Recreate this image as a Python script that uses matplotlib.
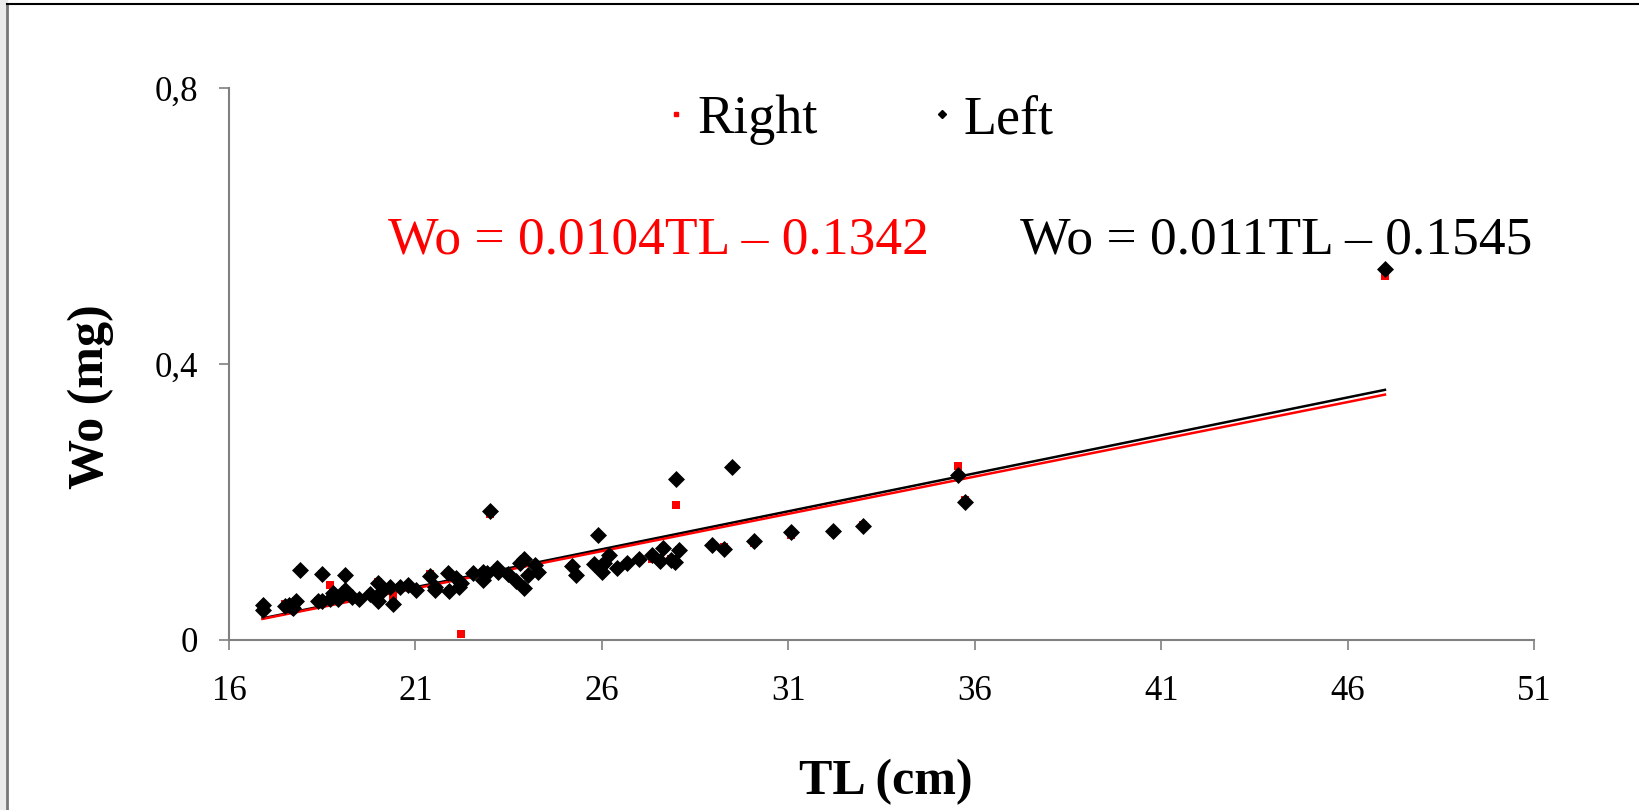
# Wo x TL, otolitos direito e esquerdo
import matplotlib.pyplot as plt
from matplotlib.lines import Line2D
from matplotlib.patches import Rectangle
import numpy as np

plt.rcParams["font.family"] = ["Liberation Serif", "DejaVu Serif"]

tl = [16.9, 16.9, 17.5, 17.6, 17.7, 17.72, 17.8, 17.9, 18.38, 18.5,
      18.5, 18.71, 18.8, 18.84, 18.93, 19.1, 19.1, 19.29, 19.49, 19.78,
      20.0, 20.0, 20.09, 20.32, 20.39, 20.59, 20.81, 21.02, 21.39, 21.52,
      21.52, 21.88, 21.9, 22.09, 22.18, 22.22, 22.55, 22.8, 22.8, 22.91,
      23.0, 23.18, 23.22, 23.49, 23.71, 23.9, 23.8, 23.9, 24.03, 24.2,
      24.3, 25.21, 25.3, 25.79, 25.9, 25.97, 26.06, 26.0, 26.2, 26.4,
      26.68, 26.99, 27.34, 27.65, 27.56, 27.86, 27.95, 28.06, 28.0, 28.96,
      29.28, 29.5, 30.07, 31.07, 32.2, 33.0, 35.56, 35.74, 47.0]

wo_left = [0.050, 0.043, 0.049, 0.051, 0.048, 0.046, 0.057, 0.102, 0.057, 0.057,
           0.095, 0.059, 0.068, 0.064, 0.059, 0.094, 0.072, 0.062, 0.059, 0.067,
           0.082, 0.057, 0.069, 0.077, 0.052, 0.077, 0.080, 0.073, 0.093, 0.077,
           0.072, 0.097, 0.071, 0.090, 0.077, 0.082, 0.097, 0.099, 0.087, 0.097,
           0.187, 0.105, 0.098, 0.096, 0.086, 0.075, 0.111, 0.117, 0.094, 0.109,
           0.098, 0.107, 0.094, 0.110, 0.152, 0.107, 0.111, 0.099, 0.123, 0.104,
           0.112, 0.117, 0.123, 0.134, 0.115, 0.116, 0.113, 0.130, 0.234, 0.138,
           0.132, 0.250, 0.144, 0.156, 0.158, 0.165, 0.239, 0.200, 0.537]

wo_right = [0.050, 0.043, 0.052, 0.051, 0.048, 0.046, 0.057, 0.102, 0.057, 0.057,
            0.095, 0.080, 0.068, 0.064, 0.059, 0.092, 0.072, 0.062, 0.059, 0.067,
            0.084, 0.057, 0.069, 0.077, 0.062, 0.077, 0.080, 0.073, 0.095, 0.077,
            0.072, 0.097, 0.071, 0.090, 0.077, 0.008, 0.097, 0.099, 0.087, 0.097,
            0.183, 0.105, 0.098, 0.096, 0.086, 0.075, 0.111, 0.117, 0.094, 0.109,
            0.103, 0.107, 0.094, 0.110, 0.152, 0.103, 0.111, 0.099, 0.123, 0.104,
            0.112, 0.117, 0.118, 0.134, 0.115, 0.118, 0.113, 0.130, 0.195, 0.138,
            0.135, 0.250, 0.140, 0.152, 0.156, 0.167, 0.252, 0.203, 0.528]

# coeficientes das retas (slope, intercept)
fit_right = [0.0108, -0.152]
fit_left = [0.011, -0.1545]

eq_right = "Wo = 0.0104TL – 0.1342"
eq_left = "Wo = 0.011TL – 0.1545"

x_ticks = [16, 21, 26, 31, 36, 41, 46, 51]
y_ticks = [0, 0.4, 0.8]
y_labels = ["0", "0,4", "0,8"]

fig = plt.figure(figsize=(16.39, 8.10), dpi=100)
axe = fig.add_axes([0.1397, 0.2099, 0.7963, 0.6815])

# moldura da figura
fig.patches.append(Rectangle((0, 0), 7 / 1639, 1, transform=fig.transFigure,
                             color="#ebebeb", zorder=0))
fig.add_artist(Line2D([7 / 1639, 7 / 1639], [0, 1 - 4 / 810], color="#777777", lw=2))
fig.add_artist(Line2D([7 / 1639, 1], [1 - 4 / 810, 1 - 4 / 810], color="black", lw=1.5))

axe.scatter(tl, wo_right, marker="s", s=30, color="red", lw=0, zorder=3)
axe.scatter(tl, wo_left, marker="D", s=75, color="black", lw=0, zorder=4)

xx = np.array([min(tl), max(tl)])
axe.plot(xx, fit_left[0] * xx + fit_left[1], color="black", lw=1.8, zorder=2)
axe.plot(xx, fit_right[0] * xx + fit_right[1], color="red", lw=1.8, zorder=2)

axe.set_xlim(16, 51)
axe.set_ylim(0, 0.8)
axe.set_xticks(x_ticks)
axe.set_yticks(y_ticks)
axe.set_yticklabels(y_labels)
axe.tick_params(labelsize=25, length=7, width=1.2, color="#808080", pad=15)
axe.tick_params(axis="x", pad=18)
for s in ["top", "right"]:
    axe.spines[s].set_visible(False)
for s in ["left", "bottom"]:
    axe.spines[s].set_color("#808080")
    axe.spines[s].set_linewidth(1.5)

axe.set_xlabel("TL (cm)", fontsize=36, fontweight="bold")
axe.xaxis.set_label_coords(0.503, -0.215)
axe.set_ylabel("Wo (mg)", fontsize=36, fontweight="bold")
axe.yaxis.set_label_coords(-0.088, 0.44)

axe.text(0.122, 0.7, eq_right, transform=axe.transAxes, fontsize=38.5, color="red")
axe.text(0.606, 0.7, eq_left, transform=axe.transAxes, fontsize=38.5, color="black")

handles = [Line2D([], [], marker="s", ls="", color="red", markersize=3.5),
           Line2D([], [], marker="D", ls="", color="black", markersize=4.5)]
axe.legend(handles, ["Right", "Left"], ncol=2, frameon=False, fontsize=39,
           loc="center", bbox_to_anchor=(0.483, 0.942), handlelength=0.4,
           handletextpad=0.2, columnspacing=2.1)

plt.savefig("out.png", dpi=100)
